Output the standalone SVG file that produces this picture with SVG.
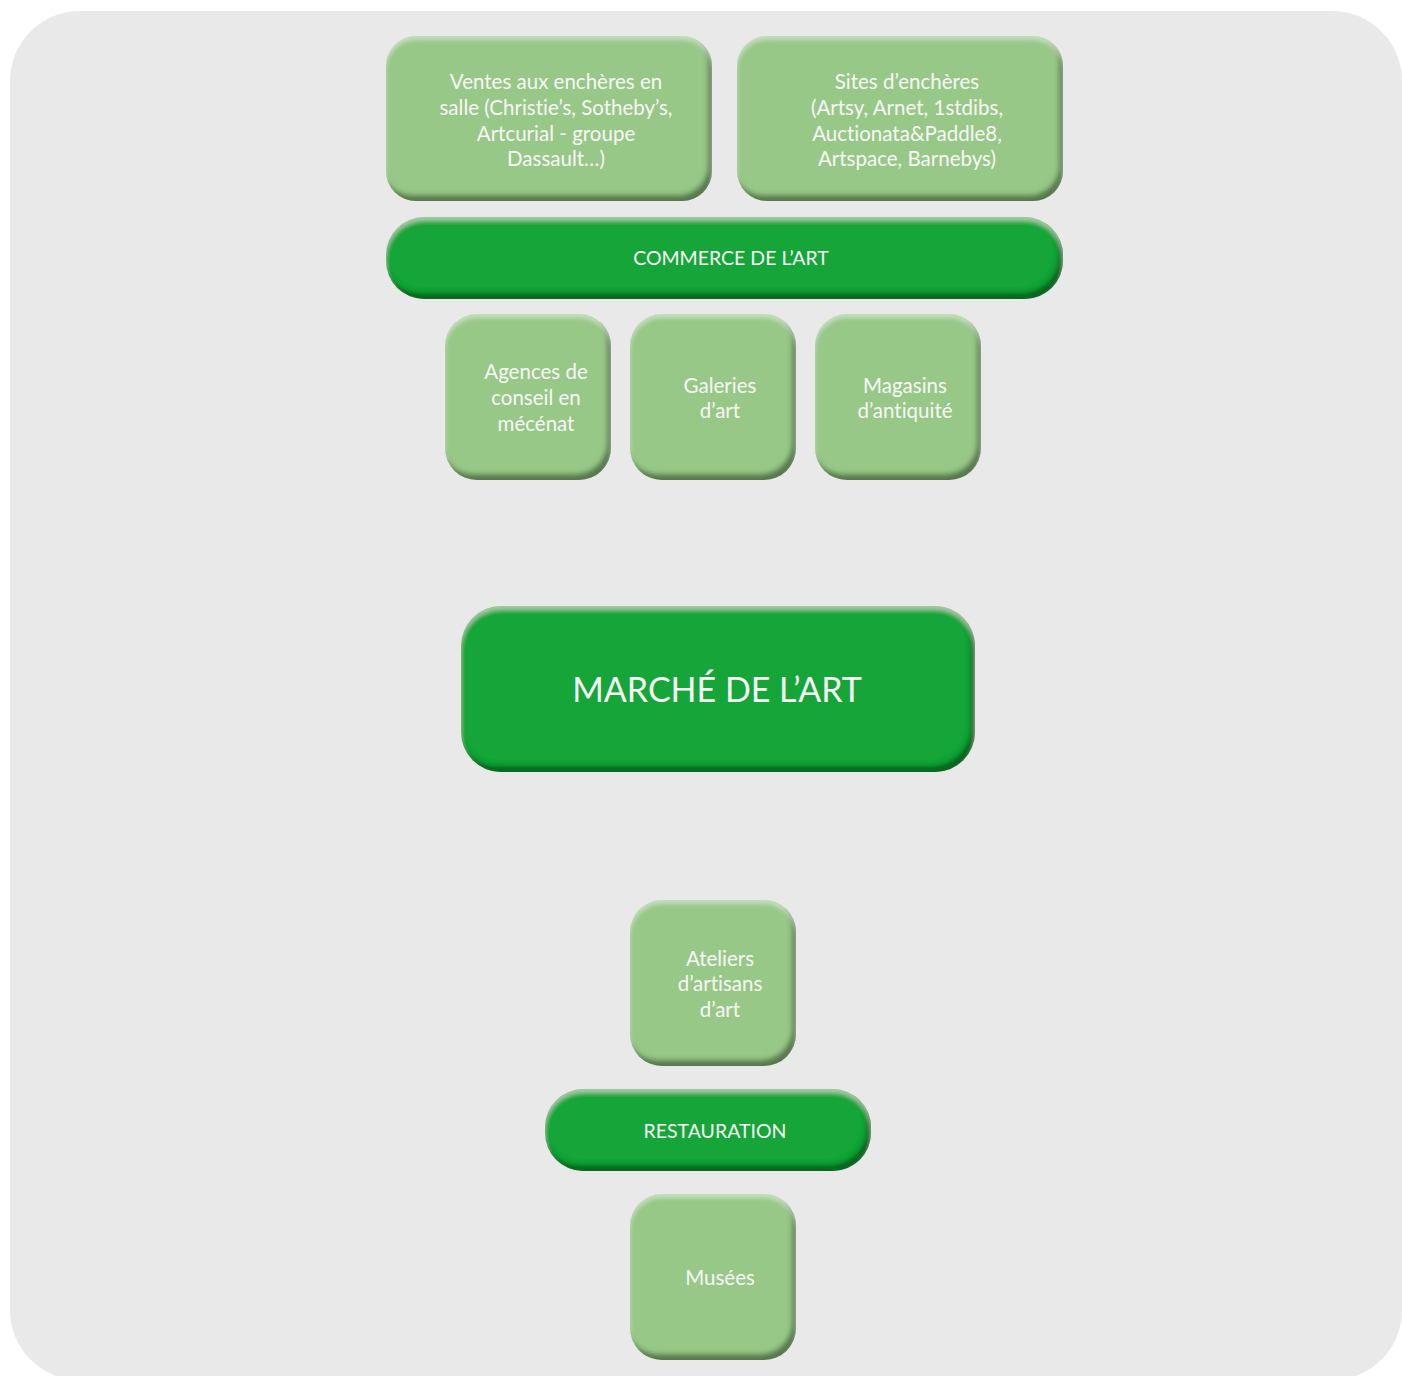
<svg xmlns="http://www.w3.org/2000/svg" width="1402" height="1376" viewBox="0 0 1402 1376">
<defs>
<filter id="bevel" x="-5%" y="-5%" width="110%" height="110%">
 <feOffset in="SourceAlpha" dx="-4" dy="-6" result="off"/>
 <feGaussianBlur in="off" stdDeviation="2.5" result="blur"/>
 <feComposite in="SourceAlpha" in2="blur" operator="out" result="inv"/>
 <feFlood flood-color="#0a2a0a" flood-opacity="0.7"/>
 <feComposite in2="inv" operator="in" result="shadow"/>
 <feOffset in="SourceAlpha" dx="0" dy="4" result="off2"/>
 <feGaussianBlur in="off2" stdDeviation="2" result="blur2"/>
 <feComposite in="SourceAlpha" in2="blur2" operator="out" result="inv2"/>
 <feFlood flood-color="#ffffff" flood-opacity="0.35"/>
 <feComposite in2="inv2" operator="in" result="hl"/>
 <feMerge><feMergeNode in="SourceGraphic"/><feMergeNode in="shadow"/><feMergeNode in="hl"/></feMerge>
</filter>
</defs>
<style>
.light{fill:#97c887;filter:url(#bevel)}
.dark{fill:#16a538;filter:url(#bevel)}
text{font-family:Lato,"Liberation Sans",sans-serif;fill:#f7f7f7;text-anchor:middle;font-size:20.5px;font-variant-ligatures:none}
.caps{font-size:19.5px}
.big{font-size:34px}
</style>
<rect x="10" y="11" width="1392" height="1369" rx="70" fill="#e9e9e9"/>
<g id="connectors"></g>
<g id="ventes">
<rect class="light" x="386" y="36" width="326" height="165" rx="30"/>
<text x="556" y="89">Ventes aux enchères en</text>
<text x="556" y="115">salle (Christie’s, Sotheby’s,</text>
<text x="556" y="141">Artcurial - groupe</text>
<text x="556" y="166">Dassault…)</text>
</g>
<g id="sites">
<rect class="light" x="737" y="36" width="326" height="165" rx="30"/>
<text x="907" y="89">Sites d’enchères</text>
<text x="907" y="115">(Artsy, Arnet, 1stdibs,</text>
<text x="907" y="141">Auctionata&amp;Paddle8,</text>
<text x="907" y="166">Artspace, Barnebys)</text>
</g>
<g id="commerce">
<rect class="dark" x="386" y="217" width="677" height="82" rx="38"/>
<text class="caps" x="731" y="265">COMMERCE DE L’ART</text>
</g>
<g id="agences">
<rect class="light" x="445" y="314" width="166" height="166" rx="32"/>
<text x="536" y="379">Agences de</text>
<text x="536" y="405">conseil en</text>
<text x="536" y="431">mécénat</text>
</g>
<g id="galeries">
<rect class="light" x="630" y="314" width="166" height="166" rx="32"/>
<text x="720" y="393">Galeries</text>
<text x="720" y="418">d’art</text>
</g>
<g id="magasins">
<rect class="light" x="815" y="314" width="166" height="166" rx="32"/>
<text x="905" y="393">Magasins</text>
<text x="905" y="418">d’antiquité</text>
</g>
<g id="marche">
<rect class="dark" x="461" y="606" width="514" height="166" rx="40"/>
<text class="big" x="717" y="702">MARCHÉ DE L’ART</text>
</g>
<g id="ateliers">
<rect class="light" x="630" y="900" width="166" height="166" rx="32"/>
<text x="720" y="966">Ateliers</text>
<text x="720" y="991">d’artisans</text>
<text x="720" y="1017">d’art</text>
</g>
<g id="restauration">
<rect class="dark" x="545" y="1089" width="326" height="82" rx="38"/>
<text class="caps" x="715" y="1138">RESTAURATION</text>
</g>
<g id="musees">
<rect class="light" x="630" y="1194" width="166" height="166" rx="32"/>
<text x="720" y="1285">Musées</text>
</g>
</svg>
